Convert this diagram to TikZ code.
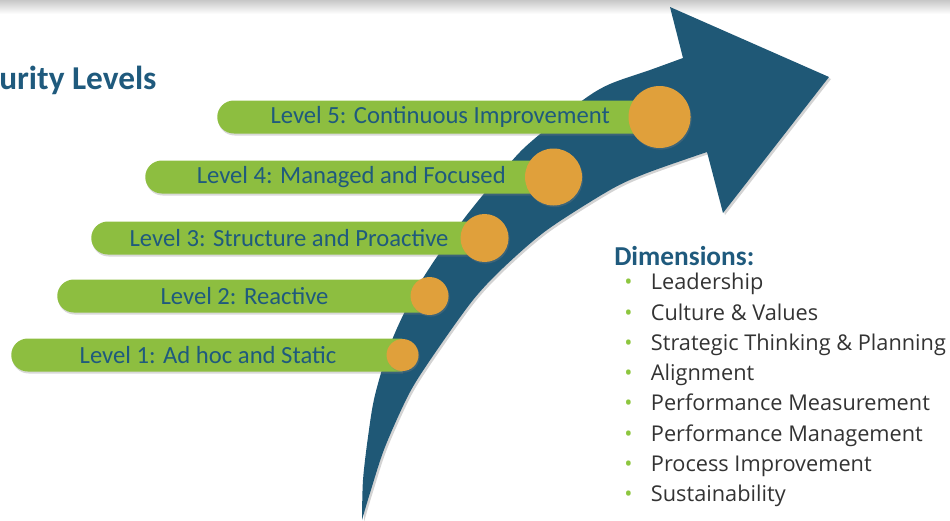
\documentclass[tikz,border=0pt]{standalone}
\usepackage{fontspec}
\setmainfont{Carlito}
\newfontfamily\listfont{Open Sans}
\usetikzlibrary{shapes.misc,shadows,positioning}
\definecolor{ArrowBlue}{HTML}{1F5876}
\definecolor{BarGreen}{HTML}{8DBE40}
\definecolor{DotOrange}{HTML}{E0A03B}
\definecolor{TextBlue}{HTML}{1F5A7D}
\definecolor{ListGray}{HTML}{333333}
\definecolor{BulletGreen}{HTML}{8DC63F}
\newcommand\dimitem[1]{\makebox[20pt][l]{\textcolor{BulletGreen}{\textbullet}}#1}

\begin{document}
\begin{tikzpicture}[x=0.75pt, y=-0.75pt,
    levelbar/.style={rounded rectangle, rounded rectangle right arc=none,
                     fill=BarGreen, text=TextBlue, anchor=west, inner sep=0pt,
                     minimum height=24.75pt, font=\fontsize{18.5}{20}\selectfont,
                     drop shadow={opacity=.3, shadow xshift=.6pt, shadow yshift=-1.5pt}},
    leveldot/.style={circle, fill=DotOrange, inner sep=0pt,
                     drop shadow={opacity=.3, shadow xshift=.8pt, shadow yshift=-1.2pt}}]
  \useasboundingbox (0,0) rectangle (950,521);
  % grey band along the top edge
  \shade[top color=black!22, bottom color=white] (0,0) rectangle (950,14);

  % the big curved arrow
  \fill[ArrowBlue, drop shadow={opacity=.35, shadow xshift=1.5pt, shadow yshift=-1.5pt}]
    plot[smooth] coordinates {(362,520) (363,480) (368,437) (375,395) (392,340)
                              (420,283) (463,220) (510,163) (533,140) (583,100)
                              (610,84) (650,70) (683,58)}
    -- (670,7) -- (829,77) -- (723,213) -- (707,152)
    -- plot[smooth] coordinates {(707,152) (647,173) (610,190) (547,230) (503,268)
                                 (473,300) (437,350) (410,392) (385,447) (370,493)
                                 (362,520)}
    -- cycle;

  \node[anchor=west, inner sep=0pt, text=TextBlue, font=\bfseries\fontsize{25}{27}\selectfont]
    (title) at (-1,80) {urity Levels};

  % levels, bottom to top
  \node[levelbar, minimum width=293.25pt] (bar1) at (11,355) {Level 1: Ad hoc and Static};
  \node[levelbar, minimum width=279pt]    (bar2) at (57,296) {Level 2: Reactive};
  \node[levelbar, minimum width=294.75pt] (bar3) at (91,238) {Level 3: Structure and Proactive};
  \node[levelbar, minimum width=306pt]    (bar4) at (145,177) {Level 4: Managed and Focused};
  \node[levelbar, minimum width=331.5pt]  (bar5) at (217,117) {Level 5: Continuous Improvement};

  \node[leveldot, minimum size=24pt]    (dot1) at (bar1.east) {};
  \node[leveldot, minimum size=28.5pt]  (dot2) at (bar2.east) {};
  \node[leveldot, minimum size=36pt]    (dot3) at (bar3.east) {};
  \node[leveldot, minimum size=42.75pt] (dot4) at (bar4.east) {};
  \node[leveldot, minimum size=46.5pt]  (dot5) at (bar5.east) {};

  % dimensions list
  \node[anchor=west, inner sep=0pt, text=TextBlue, font=\bfseries\fontsize{20.5}{22}\selectfont]
    (dims) at (614,256) {Dimensions:};
  \node[anchor=north west, inner sep=0pt, align=left, text=ListGray,
        font=\listfont\fontsize{16.3}{22.7}\selectfont] (dimlist) at (624,273)
    {\dimitem{Leadership}\\
     \dimitem{Culture \& Values}\\
     \dimitem{Strategic Thinking \& Planning}\\
     \dimitem{Alignment}\\
     \dimitem{Performance Measurement}\\
     \dimitem{Performance Management}\\
     \dimitem{Process Improvement}\\
     \dimitem{Sustainability}};
\end{tikzpicture}
\end{document}
